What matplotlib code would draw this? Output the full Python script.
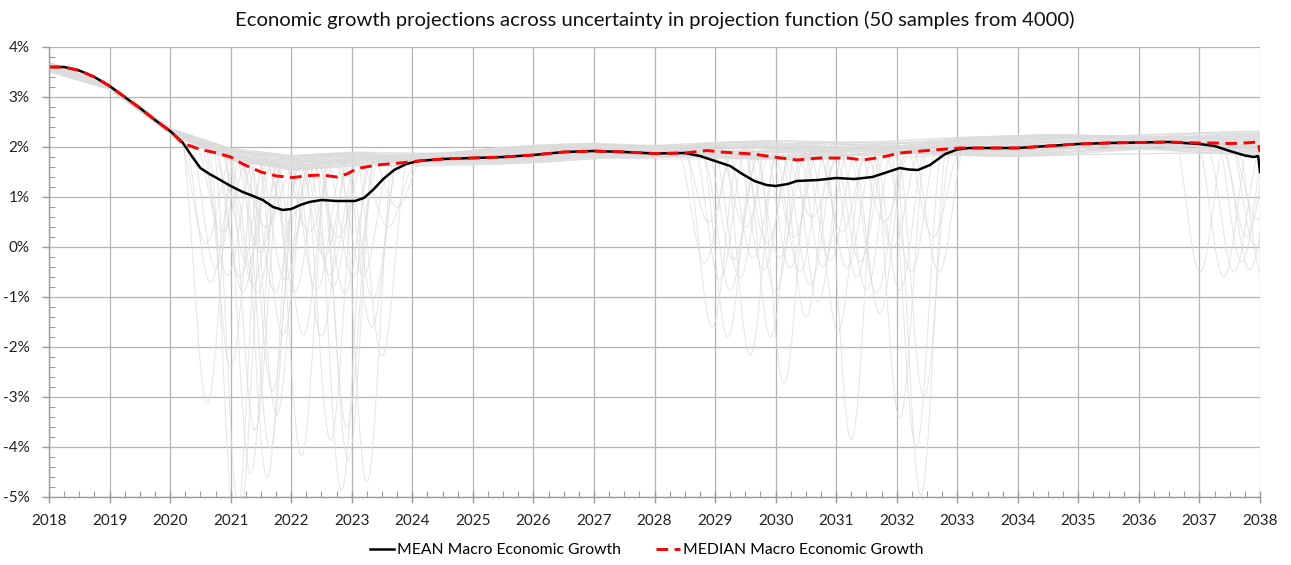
import numpy as np
import matplotlib
matplotlib.use("Agg")
import matplotlib.pyplot as plt
from matplotlib.ticker import MultipleLocator, FuncFormatter

plt.rcParams['font.family'] = ['Lato', 'DejaVu Sans']

# ---- summary series (mean / median of all 4000 projections) ----
MEAN_YEARS = [2018.0, 2018.25, 2018.5, 2018.75, 2019.0, 2019.25, 2019.5, 2019.75, 2020.0, 2020.2,
              2020.38, 2020.5, 2020.65, 2020.8, 2021.0, 2021.2, 2021.35, 2021.53, 2021.7, 2021.86,
              2022.0, 2022.15, 2022.3, 2022.5, 2022.75, 2023.05, 2023.2, 2023.35, 2023.52, 2023.7,
              2023.9, 2024.1, 2024.5, 2025.0, 2025.5, 2026.0, 2026.5, 2027.0, 2027.5, 2028.0,
              2028.5, 2028.75, 2029.0, 2029.25, 2029.45, 2029.65, 2029.85, 2030.0, 2030.2, 2030.35,
              2030.7, 2031.0, 2031.3, 2031.6, 2031.85, 2032.05, 2032.2, 2032.35, 2032.55, 2032.8,
              2033.0, 2033.2, 2033.6, 2034.0, 2034.5, 2035.0, 2035.5, 2036.0, 2036.5, 2037.0,
              2037.25, 2037.5, 2037.75, 2037.9, 2037.97, 2038.0]
MEAN_VALUES = [3.60, 3.60, 3.53, 3.40, 3.22, 3.00, 2.78, 2.54, 2.32, 2.10,
               1.78, 1.58, 1.46, 1.36, 1.22, 1.10, 1.03, 0.94, 0.80, 0.74,
               0.76, 0.84, 0.90, 0.94, 0.92, 0.92, 0.98, 1.14, 1.36, 1.54,
               1.66, 1.72, 1.76, 1.78, 1.80, 1.84, 1.90, 1.92, 1.90, 1.87,
               1.88, 1.82, 1.72, 1.62, 1.46, 1.32, 1.24, 1.22, 1.26, 1.32,
               1.34, 1.38, 1.36, 1.40, 1.50, 1.58, 1.55, 1.54, 1.64, 1.86,
               1.95, 1.98, 1.98, 1.98, 2.02, 2.06, 2.08, 2.09, 2.10, 2.06,
               2.02, 1.92, 1.83, 1.80, 1.82, 1.50]

MEDIAN_YEARS = [2018.0, 2018.25, 2018.5, 2018.75, 2019.0, 2019.25, 2019.5, 2019.75, 2020.0, 2020.2,
                2020.5, 2020.77, 2021.0, 2021.2, 2021.5, 2021.76, 2022.03, 2022.31, 2022.52, 2022.75,
                2022.92, 2023.09, 2023.42, 2023.8, 2024.1, 2024.5, 2025.0, 2025.5, 2026.0, 2026.5,
                2027.0, 2027.5, 2028.0, 2028.5, 2028.87, 2029.08, 2029.35, 2029.63, 2029.96, 2030.35,
                2030.73, 2031.18, 2031.44, 2031.77, 2032.05, 2032.6, 2033.05, 2033.3, 2034.0, 2034.5,
                2035.0, 2035.5, 2036.0, 2036.5, 2037.0, 2037.25, 2037.5, 2037.75, 2037.97, 2038.0]
MEDIAN_VALUES = [3.60, 3.60, 3.53, 3.40, 3.22, 3.00, 2.78, 2.54, 2.32, 2.08,
                 1.95, 1.88, 1.80, 1.66, 1.50, 1.42, 1.39, 1.43, 1.44, 1.40,
                 1.46, 1.57, 1.64, 1.68, 1.72, 1.76, 1.78, 1.80, 1.84, 1.90,
                 1.92, 1.90, 1.87, 1.88, 1.93, 1.90, 1.88, 1.86, 1.80, 1.74,
                 1.78, 1.78, 1.74, 1.80, 1.88, 1.94, 1.98, 1.98, 1.98, 2.02,
                 2.06, 2.08, 2.09, 2.10, 2.08, 2.08, 2.07, 2.08, 2.10, 1.90]

# ---- the 50 plotted sample projections ----
# typical (non-recession) growth path and the spread of samples around it
BAND_YEARS = list(range(2018, 2039))
BAND_CENTER = [3.60, 3.20, 2.32, 1.85, 1.68, 1.76, 1.76, 1.80, 1.86, 1.92, 1.90,
               1.94, 1.94, 1.94, 1.96, 2.00, 2.02, 2.06, 2.08, 2.08, 2.08]
BAND_HALF = [0.10, 0.06, 0.08, 0.15, 0.16, 0.17, 0.18, 0.19, 0.19, 0.19, 0.19,
             0.20, 0.20, 0.21, 0.21, 0.22, 0.23, 0.24, 0.25, 0.25, 0.25]

# position of each sample inside the band at 2018, 2022, 2026, 2030, 2034, 2038
OFFSET_YEARS = [2018, 2022, 2026, 2030, 2034, 2038]
OFFSETS = [
    [0.9, -0.3, 0.5, -0.6, 0.2, 0.7], [-0.4, 0.8, -0.2, 0.3, -0.9, 0.1],
    [0.2, -0.7, 0.9, 0.0, 0.6, -0.5], [-0.8, 0.4, -0.5, 0.8, -0.1, 0.9],
    [0.5, 0.1, -0.9, -0.3, 0.7, -0.8], [-0.1, 0.9, 0.3, -0.7, -0.4, 0.4],
    [0.7, -0.5, 0.0, 0.6, 0.9, -0.2], [-0.6, 0.2, 0.7, -0.9, 0.3, 0.6],
    [0.0, -0.9, -0.4, 0.2, -0.7, 0.0], [0.3, 0.6, -0.8, 0.9, 0.1, -0.9],
    [-0.9, 0.0, 0.4, -0.2, 0.8, 0.3], [0.6, -0.2, 0.8, 0.4, -0.6, -0.4],
    [-0.3, 0.7, -0.6, -0.5, 0.5, 0.8], [0.1, -0.6, 0.2, 0.7, -0.3, -0.7],
    [0.8, 0.3, -0.1, -0.8, 0.0, 0.5], [-0.5, -0.8, 0.6, 0.1, 0.9, -0.1],
    [0.4, 0.5, -0.7, 0.5, -0.8, 0.2], [-0.7, -0.1, 0.1, -0.4, 0.4, -0.6],
    [-0.2, 0.9, -0.3, 0.0, -0.5, 0.95], [0.95, -0.4, 0.5, 0.8, 0.2, -0.3],
    [-0.85, 0.2, -0.9, 0.3, 0.7, 0.0], [0.15, -0.7, 0.7, -0.6, -0.2, 0.6],
    [0.55, 0.6, -0.2, 0.9, -0.9, -0.8], [-0.45, -0.3, 0.3, -0.1, 0.6, 0.4],
    [0.25, 0.8, -0.5, -0.7, 0.3, -0.2], [-0.65, -0.5, 0.9, 0.4, -0.4, 0.7],
    [0.75, 0.0, -0.6, 0.2, 0.8, -0.5], [-0.15, 0.4, 0.2, -0.9, -0.7, 0.3],
    [0.35, -0.9, 0.6, 0.6, 0.1, -0.9], [-0.95, 0.7, -0.4, -0.3, 0.5, 0.1],
    [0.05, -0.2, 0.8, 0.0, -0.6, 0.8], [0.65, 0.5, -0.8, 0.7, 0.9, -0.4],
    [-0.35, -0.6, 0.1, -0.5, -0.2, 0.5], [0.45, 0.9, 0.4, 0.1, -0.9, -0.1],
    [-0.75, -0.4, -0.1, 0.8, 0.4, 0.9], [0.85, 0.1, 0.7, -0.6, -0.3, -0.6],
    [-0.25, -0.8, -0.7, 0.5, 0.7, 0.2], [-0.55, 0.6, 0.5, -0.2, 0.0, -0.3],
    [0.2, -0.1, -0.3, 0.9, -0.8, 0.6], [0.6, 0.8, 0.0, -0.8, 0.6, -0.7],
    [-0.1, -0.5, 0.9, 0.3, -0.5, 0.4], [0.4, 0.3, -0.5, -0.4, 0.9, -0.2],
    [-0.8, 0.7, 0.3, 0.6, -0.1, 0.7], [0.7, -0.7, -0.9, -0.1, 0.3, -0.9],
    [-0.3, 0.2, 0.6, 0.8, -0.7, 0.1], [0.1, 0.9, -0.2, -0.7, 0.5, 0.5],
    [-0.6, -0.3, 0.8, 0.2, -0.4, -0.5], [0.9, 0.5, -0.6, -0.9, 0.8, 0.3],
    [-0.4, -0.9, 0.4, 0.5, -0.9, -0.8], [0.3, 0.0, -0.1, -0.2, 0.2, 0.9],
]

# recession dips: (centre year, lowest growth) -- one list entry per sample, by index
DIPS_2020S = [(2020.61, -3.12), (2021.00, -2.40), (2021.08, -5.60), (2021.33, -4.52), (2021.40, -3.66),
              (2021.60, -4.62), (2021.65, -4.02), (2021.69, -2.88), (2021.76, -3.36), (2021.86, -1.76),
              (2022.17, -4.17), (2022.20, -1.76), (2022.50, -1.78), (2022.65, -3.86), (2022.83, -4.86),
              (2022.92, -3.60), (2022.94, -4.26), (2023.25, -4.70), (2023.50, -2.18), (2023.33, -1.60),
              (2021.15, -5.40), (2020.66, -0.70), (2020.75, -0.42), (2020.94, -0.56), (2021.15, -0.60),
              (2021.20, -0.90), (2021.27, -0.35), (2021.37, -0.76), (2021.43, -0.92), (2021.73, -0.90),
              (2021.90, -0.66), (2022.06, -0.90), (2022.42, -0.86), (2022.69, -0.80), (2022.89, -0.92),
              (2023.02, -0.60), (2023.19, -0.56), (2023.35, -1.04), (2022.64, -0.56), (2021.48, -0.10),
              (2020.58, 0.08), (2022.30, 0.30), (2021.95, 0.50), (2023.60, 0.40), (2022.00, 0.10),
              (2023.75, 0.80), (2020.85, 0.30), (2022.55, -0.20), (2021.58, 0.40), (2022.78, 0.20)]
DIPS_2030S = [(2028.95, -1.60), (2029.21, -1.80), (2029.58, -2.16), (2029.92, -1.80), (2030.14, -2.72),
              (2031.03, -1.68), (2031.25, -3.86), (2031.72, -1.32), (2032.05, -3.42), (2032.32, -4.00),
              (2032.40, -4.96), (2032.45, -3.00), (2032.24, -0.50), (2029.08, -0.66), (2029.25, -0.86),
              (2029.41, -0.62), (2029.63, -0.22), (2029.80, -0.46), (2030.07, -0.22), (2030.24, -0.42),
              (2030.40, -0.50), (2030.57, -0.76), (2030.78, -0.40), (2030.90, -0.26), (2031.18, -0.42),
              (2031.34, -0.60), (2031.50, -0.86), (2031.67, -0.92), (2032.05, -0.86), (2028.83, -0.32),
              (2029.30, -0.26), (2029.86, 0.08), (2031.94, 0.00), (2029.50, 0.40), (2030.30, 0.20),
              (2030.60, 0.60), (2031.10, 0.30), (2031.80, 0.50), (2032.60, 0.20), (2032.70, -0.50),
              (2028.90, 0.50), (2030.00, -0.90), (2030.70, -1.10), (2031.40, -0.30), (2030.50, -1.40)]
DIPS_2037 = [(2037.01, -0.50), (2037.40, -0.60), (2037.57, -0.50), (2037.70, -0.30), (2037.83, -0.45),
             (2037.93, 0.00), (2038.05, -0.60), (2037.78, 0.20), (2037.95, 0.55)]

DIP_HALF_SPAN = 0.45  # years from the start of a dip to its trough

fig = plt.figure(figsize=(12.91, 5.65), dpi=100)
ax = fig.add_axes([49 / 1291, 1 - 497 / 565, (1260 - 49) / 1291, (497 - 47) / 565])

t = np.linspace(2018, 2038, 4001)
center = np.interp(t, BAND_YEARS, BAND_CENTER)
half = np.interp(t, BAND_YEARS, BAND_HALF)


def smooth_knots(xk, yk, x):
    """Cosine-eased interpolation between knot values."""
    xk = np.asarray(xk, float)
    yk = np.asarray(yk, float)
    idx = np.clip(np.searchsorted(xk, x, side='right') - 1, 0, len(xk) - 2)
    u = (x - xk[idx]) / (xk[idx + 1] - xk[idx])
    w = 0.5 - 0.5 * np.cos(np.pi * np.clip(u, 0, 1))
    return yk[idx] * (1 - w) + yk[idx + 1] * w


def dip_shape(dt):
    x = np.clip(np.abs(dt) / DIP_HALF_SPAN, 0, 1)
    return np.cos(0.5 * np.pi * x) ** 2


for i in range(50):
    off = smooth_knots(OFFSET_YEARS, OFFSETS[i], t)
    base = center + off * half
    y = base.copy()
    for dips in (DIPS_2020S, DIPS_2030S, DIPS_2037):
        if i < len(dips):
            c, low = dips[i]
            depth = np.interp(c, t, base) - low
            y = np.minimum(y, base - depth * dip_shape(t - c))
    ax.plot(t, y, color='#dcdcdc', alpha=0.7, lw=0.75, zorder=2)

ax.plot(MEAN_YEARS, MEAN_VALUES, color='black', lw=1.8, zorder=4,
        label='MEAN Macro Economic Growth')
ax.plot(MEDIAN_YEARS, MEDIAN_VALUES, color='#ff0000', lw=2.1, ls=(0, (4.0, 2.2)), zorder=5,
        label='MEDIAN Macro Economic Growth')

ax.set_xlim(2018, 2038)
ax.set_ylim(-5, 4)
ax.xaxis.set_major_locator(MultipleLocator(1))
ax.xaxis.set_minor_locator(MultipleLocator(0.25))
ax.yaxis.set_major_locator(MultipleLocator(1))
ax.yaxis.set_minor_locator(MultipleLocator(0.2))
ax.xaxis.set_major_formatter(FuncFormatter(lambda v, p: f"{int(round(v))}"))
ax.yaxis.set_major_formatter(FuncFormatter(lambda v, p: f"{int(round(v))}%"))

ax.grid(True, which='major', color='#b4b4b4', lw=0.9, zorder=1)
ax.set_axisbelow(True)
for side in ('top', 'right'):
    ax.spines[side].set_visible(False)
for side in ('left', 'bottom'):
    ax.spines[side].set_color('#9a9a9a')
    ax.spines[side].set_linewidth(1.0)
    ax.spines[side].set_zorder(6)

ax.tick_params(axis='x', which='major', direction='inout', length=9, width=1.0, color='#9a9a9a',
               labelsize=11, labelcolor='#222222', pad=8)
ax.tick_params(axis='x', which='minor', direction='in', length=4, width=0.8, color='#9a9a9a')
ax.tick_params(axis='y', which='major', direction='out', length=5, width=1.0, color='#9a9a9a',
               labelsize=11, labelcolor='#222222', pad=9)
ax.tick_params(axis='y', which='minor', direction='in', length=4, width=0.8, color='#9a9a9a')

fig.text(0.507, 1 - 20 / 565, 'Economic growth projections across uncertainty in projection function (50 samples from 4000)',
         ha='center', va='center', fontsize=14.6, color='#111111')

fig.legend(loc='center', bbox_to_anchor=(0.501, 1 - 550 / 565), ncol=2, frameon=False,
           fontsize=11.3, handlelength=1.55, handletextpad=0.2, columnspacing=2.2)

fig.savefig('out.png', dpi=100)
